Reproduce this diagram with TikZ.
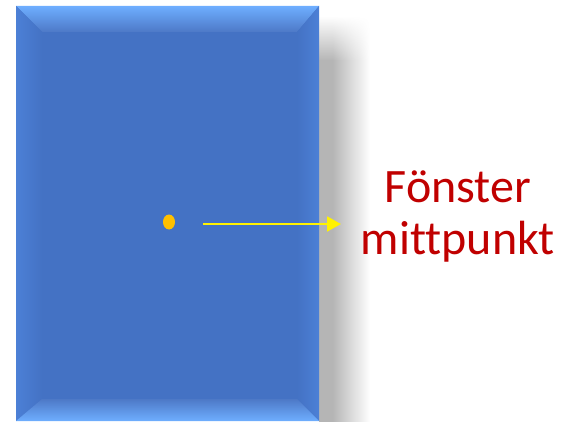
\documentclass[tikz,border=0pt]{standalone}
\usepackage{fontspec}
\setmainfont[Ligatures=NoCommon]{Carlito}
\usetikzlibrary{arrows.meta, fadings, shapes.geometric}

\definecolor{paneblue}{HTML}{4472C4}
\definecolor{panelight}{HTML}{6EAEFF}
\definecolor{paneside}{HTML}{4C80D6}
\definecolor{shadowgray}{HTML}{B5B5B5}
\definecolor{dotorange}{HTML}{FFC000}
\definecolor{labelred}{HTML}{C00000}

\pgfdeclarehorizontalshading{shadowshade}{100bp}{color(0bp)=(shadowgray); color(25bp)=(shadowgray); color(38bp)=(shadowgray); color(75bp)=(white); color(100bp)=(white)}

\tikzset{
    pointer/.style={draw=yellow, line width=2pt, -{Triangle[length=14pt, width=15pt]}},
    nametext/.style={text=labelred, align=center, font=\fontsize{48}{52}\selectfont}
}

\begin{document}
\begin{tikzpicture}[x=1pt, y=1pt]
            \useasboundingbox (0, 0) rectangle (562, 421);

            % Shadow
            \shade[shading=shadowshade] (319, 0) rectangle (370, 360);
            \shade[shading=shadowshade, path fading=north] (319, 360) rectangle (370, 405);

            % Window
            \fill[paneblue] (16, 0) rectangle (319, 415);
            % Bevels
            \shade[top color=panelight, bottom color=paneblue!95!white] (16, 415) -- (319, 415) -- (297, 389) -- (42, 389) -- cycle;
            \shade[left color=paneside, right color=paneblue] (16, 0) -- (16, 415) -- (42, 389) -- (42, 22) -- cycle;
            \shade[left color=paneblue, right color=paneside] (319, 0) -- (319, 415) -- (297, 389) -- (297, 22) -- cycle;
            \shade[bottom color=panelight, top color=paneblue!95!white] (16, 0) -- (319, 0) -- (297, 22) -- (42, 22) -- cycle;

            % Centre point
            \node[fill=dotorange, ellipse, inner sep=0pt, minimum width=12pt, minimum height=15pt] (dot) at (169, 199) {};
            \coordinate (tail) at (203, 197);
            \coordinate (head) at (341, 197);
            \draw[pointer] (tail) -- (head);

            % Label
            \node[nametext] (name) at (458, 205) {Fönster\\mittpunkt};
\end{tikzpicture}
\end{document}
